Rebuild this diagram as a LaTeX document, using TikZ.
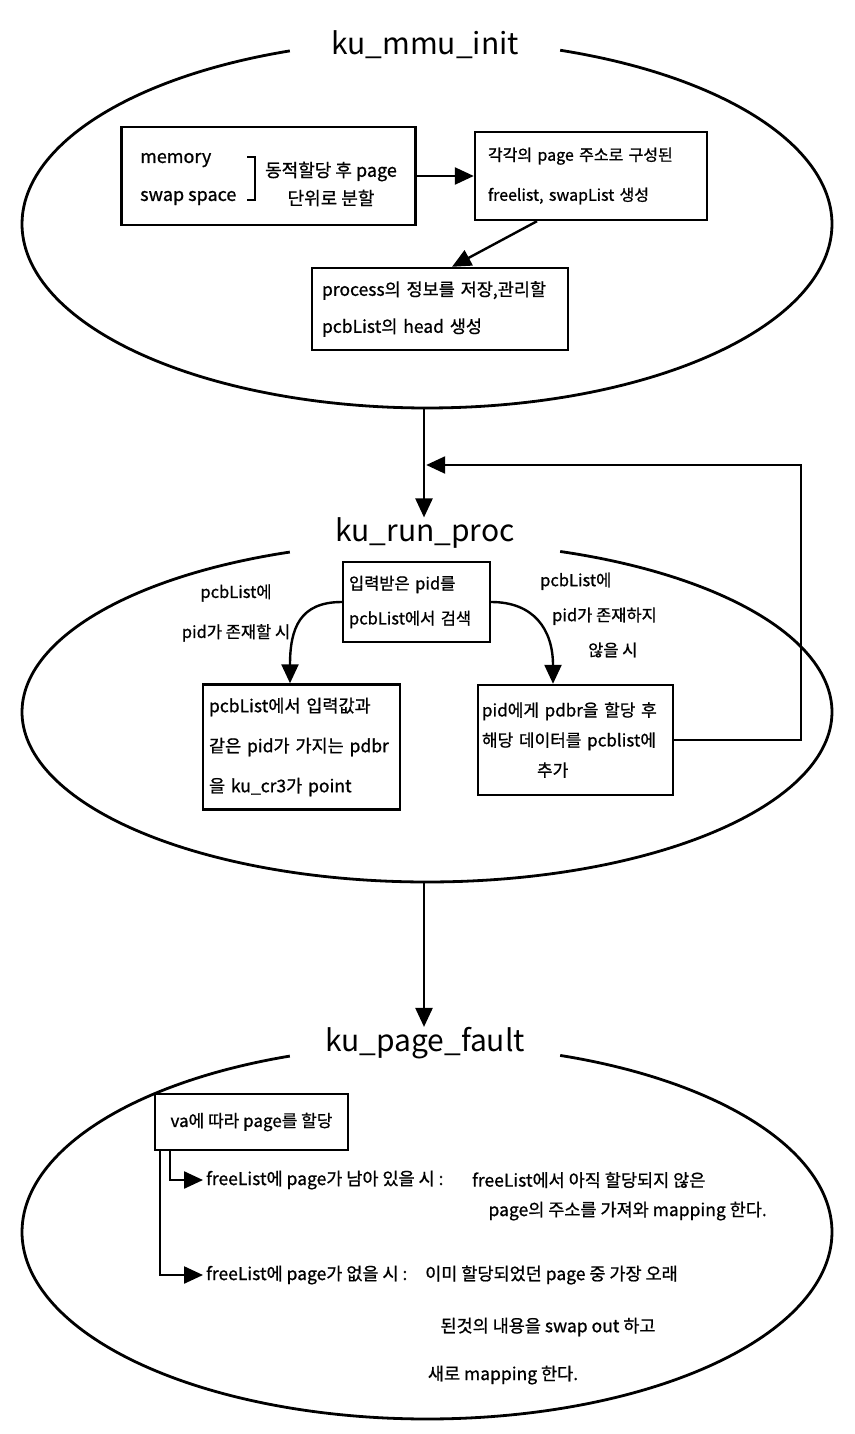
\documentclass[tikz,border=0pt]{standalone}
\usepackage{fontspec}
\setmainfont{Noto Sans CJK KR}[FakeBold=0.9]
\newfontfamily\titlefont{Noto Sans CJK KR}
\usetikzlibrary{arrows.meta,calc}
\begin{document}
\begin{tikzpicture}[x=1pt,y=-1pt,
  every node/.style={inner sep=0pt, font=\fontsize{17}{30}\selectfont},
  box/.style={draw, line width=2.4pt},
  oval/.style={line width=2.8pt},
  title/.style={font=\titlefont\fontsize{30}{32}\selectfont},
  flow/.style={line width=2.4pt, -{Triangle[length=19pt,width=17pt]}},
  link/.style={line width=2.4pt},
  small/.style={font=\fontsize{17.5}{36}\selectfont},
]
\useasboundingbox (0,0) rectangle (854,1434);

% ---------------- ku_mmu_init ----------------
\draw[oval] plot[domain=-70.8:250.2, samples=240] ({427+405*cos(\x)}, {224+184*sin(\x)});
\node[title] (t1) at (425,45) {ku\_mmu\_init};

\node[box, minimum width=294pt, minimum height=98pt] (b1) at (268.5,176) {};
\node[align=left, anchor=west, font=\fontsize{18}{38}\selectfont] (b1a) at (140,179) {memory\\swap space};
\draw[line width=2pt] (247,157) -- (255,157) -- (255,200) -- (247,200);
\node[align=center, font=\fontsize{18}{28}\selectfont] (b1b) at (331,184) {동적할당 후 page\\단위로 분할};

\node[box, text width=206pt, inner xsep=13pt, minimum height=88pt, align=left,
      font=\fontsize{16}{40}\selectfont] (b2) at (591,176)
      {각각의 page 주소로 구성된\\freelist, swapList 생성};

\node[box, text width=236pt, inner xsep=10pt, minimum height=82pt, align=left,
      font=\fontsize{17.5}{37}\selectfont] (b3) at (440,309)
      {process의 정보를 저장,관리할\\pcbList의 head 생성};

\draw[flow] (b1.east) -- (b1.east -| b2.west);
\draw[flow] ($(b2.south)+(-54,0)$) -- ($(b3.north)+(12,0)$);

% ---------------- ku_run_proc ----------------
\coordinate (e1b) at (424,408);
\node[title] (t2) at (425,533) {ku\_run\_proc};
\draw[flow] (e1b) -- (e1b |- t2.north);

\draw[oval] plot[domain=-70.8:250.2, samples=240] ({427+405*cos(\x)}, {712+170*sin(\x)});

\node[box, text width=135pt, inner xsep=6pt, minimum height=80pt, align=left,
      font=\fontsize{16.5}{35}\selectfont] (c0) at (416.5,602)
      {입력받은 pid를\\pcbList에서 검색};

\node[align=center, font=\fontsize{16.5}{40}\selectfont] (ll) at (236,613) {pcbList에\\pid가 존재할 시};
\node[align=left, anchor=west, font=\fontsize{16.5}{35}\selectfont] (rl) at (540,615)
      {pcbList에\\\hspace*{12pt}pid가 존재하지\\\hspace*{48pt}않을 시};

\node[box, text width=185pt, inner xsep=6pt, minimum height=125pt, align=left,
      font=\fontsize{17.5}{40}\selectfont] (lb) at (301.5,747)
      {pcbList에서 입력값과\\같은 pid가 가지는 pdbr\\을 ku\_cr3가 point};

\node[box, text width=187pt, inner xsep=4pt, minimum height=110pt, align=left,
      font=\fontsize{17}{30}\selectfont] (rb) at (575.5,740)
      {pid에게 pdbr을 할당 후\\해당 데이터를 pcblist에\\\hspace*{55pt}추가};

\coordinate (lbtop) at ($(lb.north)+(-11.5,0)$);
\coordinate (rbtop) at ($(rb.north)+(-22.5,0)$);
\draw[flow] (c0.west) .. controls ($(c0.west)+(-42,0)$) and ($(lbtop)+(0,-55)$) .. (lbtop);
\draw[flow] (c0.east) .. controls ($(c0.east)+(42,0)$) and ($(rbtop)+(0,-55)$) .. (rbtop);

\coordinate (fb) at (426.2,465);
\draw[flow] (rb.east) -- ++(127,0) |- (fb);

% ---------------- ku_page_fault ----------------
\coordinate (e2b) at (424,882);
\node[title] (t3) at (425,1043) {ku\_page\_fault};
\draw[flow] (e2b) -- (e2b |- t3.north);

\draw[oval] plot[domain=-70.8:250.2, samples=240] ({427+405*cos(\x)}, {1232+187*sin(\x)});

\node[box, minimum width=193pt, minimum height=56pt] (vb) at (251.5,1122) {va에 따라 page를 할당};

\node[small, anchor=west, inner xsep=3pt] (f1a) at (203,1180) {freeList에 page가 남아 있을 시 :};
\node[small, anchor=west] (f1b) at (472,1180) {freeList에서 아직 할당되지 않은};
\node[small, anchor=east] (f1c) at (767,1211) {page의 주소를 가져와 mapping 한다.};

\node[small, anchor=west, inner xsep=3pt] (f2a) at (203,1275) {freeList에 page가 없을 시 :};
\node[small, anchor=west] (f2b) at (425,1275) {이미 할당되었던 page 중 가장 오래};
\node[small] (f2c) at (548,1327) {된것의 내용을 swap out 하고};
\node[small] (f2d) at (503,1375) {새로 mapping 한다.};

\draw[flow] ($(vb.south west)+(16,0)$) |- (f1a.west);
\draw[flow] ($(vb.south west)+(6,0)$) |- (f2a.west);
\end{tikzpicture}
\end{document}
